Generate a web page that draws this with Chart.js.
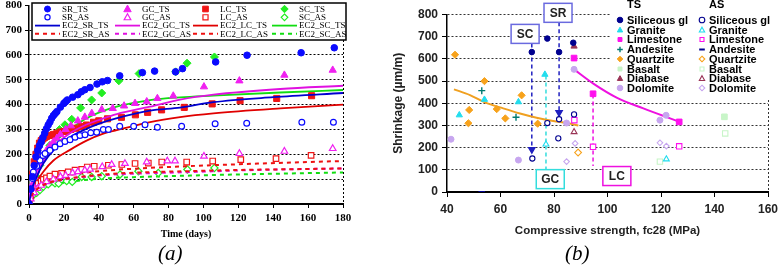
<!DOCTYPE html>
<html>
<head>
<meta charset="utf-8">
<script src="https://cdn.jsdelivr.net/npm/chart.js@4.4.1/dist/chart.umd.min.js"></script>
<style>
  html, body { margin: 0; padding: 0; background: #fff; }
  #wrap { position: relative; width: 780px; height: 266px; overflow: hidden; }
  canvas { position: absolute; top: 0; }
  #chartA { left: 0; }
  #chartB { left: 390px; }
  .cap { position: absolute; top: 241px; font: italic 21px "Liberation Serif", "Times New Roman", serif; color: #000; }
</style>
</head>
<body>
<div id="wrap">
  <canvas id="chartA" width="390" height="266"></canvas>
  <canvas id="chartB" width="390" height="266"></canvas>
  <div class="cap" style="left:158px">(a)</div>
  <div class="cap" style="left:565px">(b)</div>
</div>
<script>
// ---------- (a) shrinkage vs time : [day, microstrain] ----------
const SR_TS = [[0,0],[1,60],[2,110],[3,155],[4,190],[5,215],[6,235],[7,250],[8,268],[9,285],[10,303],[11,318],[12,330],[13,345],[14,356],[15,364],[16,372],[18,390],[20,405],[21,412],[22,419],[25,430],[28,440],[30,452],[32,460],[35,469],[39,483],[42,492],[45,497],[52,516],[65,529],[72,535],[84,532],[88,545],[107,572],[125,599],[156,609],[175,629]];
const SR_AS = [[0,0],[1,60],[1.9,103],[2.5,129],[4.4,152],[6.3,176],[8,195],[9.2,203],[12,216],[14.9,229],[17.8,243],[20.6,252],[23.5,259],[26.4,269],[29.2,276],[32.1,279],[35.4,287],[38.8,289],[42.6,300],[45.5,300],[52,313],[60,313],[66.5,319],[73.6,309],[87.5,313],[106.7,323],[124.8,325],[156.4,329],[174.5,329]];
const GC_TS = [[0,0],[1,40],[2,80],[3,110],[4,135],[5,150],[6,165],[7,180],[8,195],[10,215],[12,235],[14,250],[16,265],[18,280],[21,300],[24,315],[28,335],[32,350],[36,365],[41.7,380],[48,385],[54.5,395],[60.8,405],[67.5,412],[73.6,425],[82.7,435],[100.3,472],[120.6,496],[146.4,519],[174.1,539]];
const GC_AS = [[0,0],[1,20],[3,45],[5,62],[7,75],[10,90],[14,100],[18,110],[21,115],[25,125],[28,130],[32,136],[35,140],[42,150],[47.4,159],[55,163],[67.5,169],[79.3,173],[83.7,173],[100.3,192],[120.6,203],[146.4,212],[174.1,223]];
const LC_TS = [[0,0],[1,60],[2,120],[3,170],[4,200],[5,225],[6,245],[7,255],[8,262],[9,268],[10,272],[12,276],[14,280],[16,285],[18,290],[20,292],[22,296],[24,300],[27,305],[30,312],[33,318],[37,329],[40,335],[45,343],[53,349],[61,359],[68,369],[76,379],[89,389],[105,403],[121,416],[142,425],[162,436]];
const LC_AS = [[0,0],[1,30],[2,50],[3,65],[4,75],[5.3,83],[7,92],[8.2,99],[10,105],[12,112],[14.9,120],[18.7,123],[22.5,129],[26.4,136],[30.2,139],[33.4,149],[37.4,152],[45.5,156],[53.2,159],[60.8,163],[68.4,165],[76.1,169],[90.4,169],[105.3,173],[121.4,179],[141.6,183],[161.7,196]];
const SC_TS = [[0,0],[0.6,16],[2.5,56],[4.4,109],[6.3,156],[9.2,196],[12,236],[14.9,276],[17.5,300],[20.6,319],[24.5,341],[29.6,387],[35.9,419],[41.7,447],[51.5,496],[63.1,525],[84.1,532],[90.6,567],[106.3,592]];
const SC_AS = [[0,0],[0.6,23],[2.5,36],[4.4,45],[6.3,56],[8.2,69],[11,79],[14.9,83],[17,82],[21.6,92],[24.8,89],[30.2,109],[35.9,109],[41.7,112],[52.2,119],[62.7,132],[74.1,125],[90.8,139],[106.3,145]];

const EC2_SR_TS = [[0,0],[1.5,56],[4.4,109],[8.2,163],[14,216],[23.5,269],[33,303],[40.7,325],[50,345],[69.4,376],[86.6,388],[105.7,410],[140,430],[180,447]];
const EC2_GC_TS = [[0,0],[1.5,60],[4.4,118],[8.2,175],[14,230],[23.5,285],[33,320],[40.7,340],[50.3,362],[69.4,392],[86.6,420],[105.7,440],[144,463],[180,476]];
const EC2_LC_TS = [[0,0],[1.5,45],[4.4,90],[8.2,130],[14,175],[23.5,218],[33,255],[42.6,283],[50.3,297],[69.4,330],[86.6,350],[105.7,365],[144,385],[180,400]];
const EC2_SC_TS = [[0,0],[1.5,70],[4.4,135],[8.2,190],[14,245],[23.5,300],[33,345],[40.7,370],[50.3,392],[69.4,418],[86.6,429],[105.7,436],[144,449],[180,459]];
const EC2_SR_AS = [[0,0],[2,40],[5,62],[10,82],[20,100],[30,110],[45,120],[60,126],[90,132],[120,137],[150,140],[180,143]];
const EC2_GC_AS = [[0,0],[2,38],[5,60],[10,80],[20,98],[30,108],[45,117],[60,122],[90,128],[120,135],[150,140],[180,143]];
const EC2_LC_AS = [[0,0],[2,45],[5,70],[10,92],[20,112],[30,124],[45,135],[60,142],[90,152],[120,160],[150,167],[180,173]];
const EC2_SC_AS = [[0,0],[2,32],[5,52],[10,70],[20,86],[30,95],[45,104],[60,108],[90,114],[120,119],[150,123],[180,127]];

// ---------- (b) shrinkage vs fc28 : [MPa, microstrain] ----------
const ROCKS = ['Siliceous gl', 'Granite', 'Limestone', 'Andesite', 'Quartzite', 'Basalt', 'Diabase', 'Dolomite'];
const SILICEOUS_TS = [[71.7,631],[77.5,692],[81.9,631],[87.2,673]];
const SILICEOUS_AS = [[71.9,151],[77.5,311],[81.9,328],[81.6,242],[87.5,350]];
const GRANITE_TS = [[44.6,347],[54,417],[66.7,406],[76.6,530]];
const GRANITE_AS = [[77,215],[122,148]];
const LIMESTONE_TS = [[87.5,604],[94.6,443],[126.8,316]];
const LIMESTONE_AS = [[87.6,324],[94.6,204],[126.8,206]];
const ANDESITE_TS = [[53,457],[65.8,337]];
const ANDESITE_AS = [[53,0]];
const QUARTZITE_TS = [[43,619],[54,500],[48.3,370],[58.6,374],[61.8,332],[67.9,436],[48,310],[73.9,308]];
const QUARTZITE_AS = [[89,178]];
const BASALT_TS = [[143.7,339]];
const BASALT_AS = [[144,264],[119.6,137]];
const DIABASE_TS = [[87.5,657]];
const DIABASE_AS = [[87.5,271]];
const DOLOMITE_TS = [[41.5,238],[66.7,144],[87.5,553],[84.7,311],[119.6,324],[121.9,346]];
const DOLOMITE_AS = [[84.7,137],[87.9,219],[119.6,222],[122,207]];

const QUARTZITE_FIT = [[42.6,463],[48.6,437],[54.2,404],[61,377],[67.3,354],[73.5,335],[79.7,320],[85.3,310],[89.1,300]];
const LIMESTONE_FIT = [[87.5,553],[94.7,489],[103.4,426],[113.4,377],[123.4,332],[126.8,317]];

// arrows: from -> to (shrinkage drop TS -> AS)
const ARROW_SC = [[71.7,670],[71.7,192]];
const ARROW_SR = [[81.9,765],[81.9,358]];
const ARROW_GC = [[77,525],[77,99]];
const ARROW_LC = [[94.6,440],[94.6,117]];
const CALLOUTS = ['SC', 'SR', 'GC', 'LC'];
const CALLOUT_POS = [[69.2,713],[81.5,808],[78.6,58],[103.5,72]];

const SERIF = '"Liberation Serif", "Times New Roman", serif';
const SANS = '"Liberation Sans", Arial, sans-serif';

const pts = arr => arr.map(([x, y]) => ({ x, y }));

// small marker painter, used by both legends
function marker(ctx, style, x, y, r, fill, stroke, lw) {
  ctx.save();
  ctx.fillStyle = fill;
  ctx.strokeStyle = stroke;
  ctx.lineWidth = lw;
  ctx.beginPath();
  if (style === 'circle') {
    ctx.arc(x, y, r, 0, Math.PI * 2);
  } else if (style === 'triangle') {
    ctx.moveTo(x, y - r);
    ctx.lineTo(x + r * 0.95, y + r * 0.7);
    ctx.lineTo(x - r * 0.95, y + r * 0.7);
    ctx.closePath();
  } else if (style === 'rect') {
    const s = r * Math.SQRT1_2;
    ctx.rect(x - s, y - s, 2 * s, 2 * s);
  } else if (style === 'rectRot') {
    ctx.moveTo(x, y - r); ctx.lineTo(x + r, y); ctx.lineTo(x, y + r); ctx.lineTo(x - r, y);
    ctx.closePath();
  } else if (style === 'cross') {
    ctx.moveTo(x - r, y); ctx.lineTo(x + r, y); ctx.moveTo(x, y - r); ctx.lineTo(x, y + r);
    ctx.stroke(); ctx.restore(); return;
  } else if (style === 'line') {
    ctx.moveTo(x - r, y); ctx.lineTo(x + r, y);
    ctx.stroke(); ctx.restore(); return;
  }
  ctx.fill();
  ctx.stroke();
  ctx.restore();
}

// ================= chart (a) =================
const groupsA = [
  { name: 'SR', color: '#0a0aff', line: '#0000d0', asLine: '#ee1111', style: 'circle', r: 3.3, ts: SR_TS, as: SR_AS, ecTs: EC2_SR_TS, ecAs: EC2_SR_AS },
  { name: 'GC', color: '#f020f0', line: '#e010e0', asLine: '#e010e0', style: 'triangle', r: 4.2, ts: GC_TS, as: GC_AS, ecTs: EC2_GC_TS, ecAs: EC2_GC_AS },
  { name: 'LC', color: '#f01515', line: '#e00000', asLine: '#ee1111', style: 'rect', r: 4.3, ts: LC_TS, as: LC_AS, ecTs: EC2_LC_TS, ecAs: EC2_LC_AS },
  { name: 'SC', color: '#22ee22', line: '#11dd11', asLine: '#11dd11', style: 'rectRot', r: 4, ts: SC_TS, as: SC_AS, ecTs: EC2_SC_TS, ecAs: EC2_SC_AS }
];

const datasetsA = [];
groupsA.forEach(g => {
  datasetsA.push({ label: g.name + '_TS', data: pts(g.ts), pointStyle: g.style, pointRadius: g.r,
    backgroundColor: g.color, borderColor: g.color, borderWidth: 1, showLine: false });
  datasetsA.push({ label: g.name + '_AS', data: pts(g.as), pointStyle: g.style, pointRadius: g.r - 0.4,
    backgroundColor: '#fff', borderColor: g.color, borderWidth: 1.2, showLine: false });
  datasetsA.push({ label: 'EC2_' + g.name + '_TS', data: pts(g.ecTs), showLine: true, pointRadius: 0,
    borderColor: g.line, borderWidth: 1.8, cubicInterpolationMode: 'monotone', fill: false });
  datasetsA.push({ label: 'EC2_' + g.name + '_AS', data: pts(g.ecAs), showLine: true, pointRadius: 0,
    borderColor: g.asLine, borderWidth: 2, borderDash: [4, 4], cubicInterpolationMode: 'monotone', fill: false });
});

const legendA = {
  id: 'legendA',
  afterDatasetsDraw(chart) {
    const ctx = chart.ctx;
    const area = chart.chartArea;
    ctx.save();
    // dotted right frame
    ctx.strokeStyle = '#000'; ctx.lineWidth = 1; ctx.setLineDash([2, 2]);
    ctx.beginPath(); ctx.moveTo(area.right + 0.5, 40); ctx.lineTo(area.right + 0.5, area.bottom); ctx.stroke();
    ctx.setLineDash([]);
    // legend box
    ctx.fillStyle = '#fff'; ctx.fillRect(32, 3, 314, 37);
    ctx.lineWidth = 1.5; ctx.strokeRect(32, 3, 314, 37);
    const colX = [35, 115, 193, 272];
    const rowY = [9, 17.3, 25.6, 33.8];
    ctx.font = '9px ' + SERIF;
    ctx.textBaseline = 'middle';
    chart.data.datasets.forEach((ds, i) => {
      const x0 = colX[Math.floor(i / 4)], y = rowY[i % 4];
      if (ds.showLine) {
        ctx.save();
        ctx.strokeStyle = ds.borderColor; ctx.lineWidth = ds.borderWidth;
        ctx.setLineDash(ds.borderDash || []);
        ctx.beginPath(); ctx.moveTo(x0, y); ctx.lineTo(x0 + 25, y); ctx.stroke();
        ctx.restore();
      } else {
        marker(ctx, ds.pointStyle, x0 + 12.5, y, ds.pointRadius - 0.3, ds.backgroundColor, ds.borderColor, ds.borderWidth);
      }
      ctx.fillStyle = '#000';
      ctx.fillText(ds.label, x0 + 27, y + 0.5);
    });
    ctx.restore();
  }
};

new Chart(document.getElementById('chartA'), {
  type: 'scatter',
  data: { datasets: datasetsA },
  options: {
    responsive: false,
    animation: false,
    layout: { padding: { left: 0, top: 3, right: 47, bottom: 0 } },
    plugins: { legend: { display: false }, tooltip: { enabled: false } },
    scales: {
      x: {
        type: 'linear', min: 0, max: 180,
        ticks: { stepSize: 20, color: '#000', padding: 4, font: { family: SERIF, size: 11, weight: 'bold' }, maxRotation: 0 },
        grid: { drawOnChartArea: false, drawTicks: true, tickLength: 4, tickColor: '#000' },
        border: { display: true, color: '#000', width: 2 },
        title: { display: true, text: 'Time (days)', color: '#000', font: { family: SERIF, size: 10, weight: 'bold' }, padding: { top: 0, bottom: 26 } },
        afterFit(scale) { scale.height = 62; scale.paddingLeft = 0; scale.paddingRight = 0; }
      },
      y: {
        type: 'linear', min: 0, max: 800,
        ticks: { stepSize: 100, color: '#000', padding: 3, font: { family: SERIF, size: 11, weight: 'bold' } },
        grid: {
          color: c => (c.tick && (c.tick.value === 0 || c.tick.value === 800)) ? 'rgba(0,0,0,0)' : '#000',
          lineWidth: 1, tickLength: 4, tickColor: '#000'
        },
        border: { display: true, color: '#000', width: 1.5, dash: [2, 2] },
        afterFit(scale) { scale.width = 29; scale.paddingTop = 0; scale.paddingBottom = 0; }
      }
    }
  },
  plugins: [legendA]
});

// ================= chart (b) =================
const rockData = [
  [SILICEOUS_TS, SILICEOUS_AS], [GRANITE_TS, GRANITE_AS], [LIMESTONE_TS, LIMESTONE_AS], [ANDESITE_TS, ANDESITE_AS],
  [QUARTZITE_TS, QUARTZITE_AS], [BASALT_TS, BASALT_AS], [DIABASE_TS, DIABASE_AS], [DOLOMITE_TS, DOLOMITE_AS]
];
const rockStyle = [
  { color: '#00008f', ts: 'circle', as: 'circle', r: 2.8 },
  { color: '#22ddee', ts: 'triangle', as: 'triangle', r: 3.6 },
  { color: '#ff10ee', ts: 'rect', as: 'rect', r: 4 },
  { color: '#007a70', ts: 'cross', as: 'line', r: 3.5, asColor: '#00008f' },
  { color: '#f7a21b', ts: 'rectRot', as: 'rectRot', r: 3.6 },
  { color: '#c8f5c8', ts: 'rect', as: 'rect', r: 4 },
  { color: '#993355', ts: 'triangle', as: 'triangle', r: 3.6 },
  { color: '#c7a6ef', ts: 'circle', as: 'rectRot', r: 3 }
];

const datasetsB = [];
ROCKS.forEach((name, i) => {
  const s = rockStyle[i];
  datasetsB.push({ label: name, group: 'TS', data: pts(rockData[i][0]), pointStyle: s.ts, pointRadius: s.r,
    backgroundColor: s.color, borderColor: s.color, borderWidth: s.ts === 'cross' ? 1.4 : 1, showLine: false });
});
ROCKS.forEach((name, i) => {
  const s = rockStyle[i];
  const c = s.asColor || s.color;
  datasetsB.push({ label: name, group: 'AS', data: pts(rockData[i][1]), pointStyle: s.as, pointRadius: s.r - 0.2,
    backgroundColor: '#fff', borderColor: c, borderWidth: s.as === 'line' ? 2 : 1.1, showLine: false });
});
datasetsB.push({ label: 'fitQ', group: 'fit', data: pts(QUARTZITE_FIT), showLine: true, pointRadius: 0,
  borderColor: '#f0a020', borderWidth: 2, cubicInterpolationMode: 'monotone' });
datasetsB.push({ label: 'fitL', group: 'fit', data: pts(LIMESTONE_FIT), showLine: true, pointRadius: 0,
  borderColor: '#ee10e0', borderWidth: 2, cubicInterpolationMode: 'monotone' });
const arrowColors = ['#2020c0', '#2020c0', '#33dddd', '#ee10e0'];
[ARROW_SC, ARROW_SR, ARROW_GC, ARROW_LC].forEach((a, i) => {
  datasetsB.push({ label: 'arrow' + CALLOUTS[i], group: 'arrow', data: pts(a), showLine: true,
    borderColor: arrowColors[i], borderWidth: 1.5, borderDash: [4, 3],
    pointStyle: 'triangle', rotation: 180, pointRadius: i < 2 ? [0, 3.5] : [0, 0],
    pointBackgroundColor: arrowColors[i], pointBorderColor: arrowColors[i] });
});

const legendB = {
  id: 'legendB',
  beforeDatasetsDraw(chart) {
    const ctx = chart.ctx;
    const area = chart.chartArea;
    ctx.save();
    ctx.fillStyle = '#fff';
    ctx.fillRect(220, 0, 170, 97);
    ctx.strokeStyle = '#333'; ctx.lineWidth = 1; ctx.setLineDash([2, 2]);
    ctx.beginPath(); ctx.moveTo(area.right + 0.5, 100); ctx.lineTo(area.right + 0.5, area.bottom); ctx.stroke();
    ctx.restore();
  },
  afterDatasetsDraw(chart) {
    const ctx = chart.ctx;
    ctx.save();
    ctx.font = 'bold 11px ' + SANS;
    ctx.textBaseline = 'middle';
    ctx.fillStyle = '#000';
    ctx.fillText('TS', 237, 5);
    ctx.fillText('AS', 319, 5);
    const rowY = [20, 30, 39.5, 49.5, 59, 69, 78.5, 88];
    chart.data.datasets.forEach((ds, i) => {
      if (ds.group !== 'TS' && ds.group !== 'AS') return;
      const row = i % 8;
      const mx = ds.group === 'TS' ? 230 : 312;
      marker(ctx, ds.pointStyle, mx, rowY[row], 2.8, ds.backgroundColor, ds.borderColor, ds.borderWidth);
      ctx.fillStyle = '#000';
      ctx.fillText(ds.label, mx + 7, rowY[row] + 0.5);
    });
    // callout boxes
    const xs = chart.scales.x, ys = chart.scales.y;
    ctx.font = 'bold 12px ' + SANS;
    ctx.textAlign = 'center';
    CALLOUTS.forEach((t, i) => {
      const cx = xs.getPixelForValue(CALLOUT_POS[i][0]);
      const cy = ys.getPixelForValue(CALLOUT_POS[i][1]);
      ctx.fillStyle = '#fff';
      ctx.fillRect(cx - 14, cy - 9.5, 28, 19);
      ctx.strokeStyle = arrowColors[i] === '#2020c0' ? '#6a6adf' : arrowColors[i];
      ctx.lineWidth = 1.5;
      ctx.strokeRect(cx - 14, cy - 9.5, 28, 19);
      ctx.fillStyle = '#222';
      ctx.fillText(t, cx, cy + 0.5);
    });
    ctx.restore();
  }
};

new Chart(document.getElementById('chartB'), {
  type: 'scatter',
  data: { datasets: datasetsB },
  options: {
    responsive: false,
    animation: false,
    layout: { padding: { left: 0, top: 14.6, right: 12, bottom: 0 } },
    plugins: { legend: { display: false }, tooltip: { enabled: false } },
    scales: {
      x: {
        type: 'linear', min: 40, max: 160,
        ticks: { stepSize: 20, color: '#222', padding: 5, font: { family: SANS, size: 12, weight: 'bold' }, maxRotation: 0 },
        grid: { drawOnChartArea: false, drawTicks: true, tickLength: 5, tickColor: '#000' },
        border: { display: true, color: '#000', width: 2 },
        title: { display: true, text: 'Compressive strength, fc28 (MPa)', color: '#222', font: { family: SANS, size: 11.5, weight: 'bold' }, padding: { top: 0, bottom: 28 } },
        afterFit(scale) { scale.height = 74; scale.paddingLeft = 0; scale.paddingRight = 0; }
      },
      y: {
        type: 'linear', min: 0, max: 800,
        ticks: { stepSize: 100, color: '#222', padding: 4, font: { family: SANS, size: 12, weight: 'bold' } },
        grid: {
          color: c => (c.tick && c.tick.value === 0) ? 'rgba(0,0,0,0)' : '#333',
          lineWidth: 1, tickLength: 5, tickColor: '#000'
        },
        border: { display: true, color: '#000', width: 1.5, dash: [2, 2] },
        title: { display: true, text: 'Shrinkage (µm/m)', color: '#222', font: { family: SANS, size: 12, weight: 'bold' }, padding: { top: 1, bottom: 0 } },
        afterFit(scale) { scale.width = 57; scale.paddingTop = 0; scale.paddingBottom = 0; }
      }
    }
  },
  plugins: [legendB]
});
</script>
</body>
</html>
